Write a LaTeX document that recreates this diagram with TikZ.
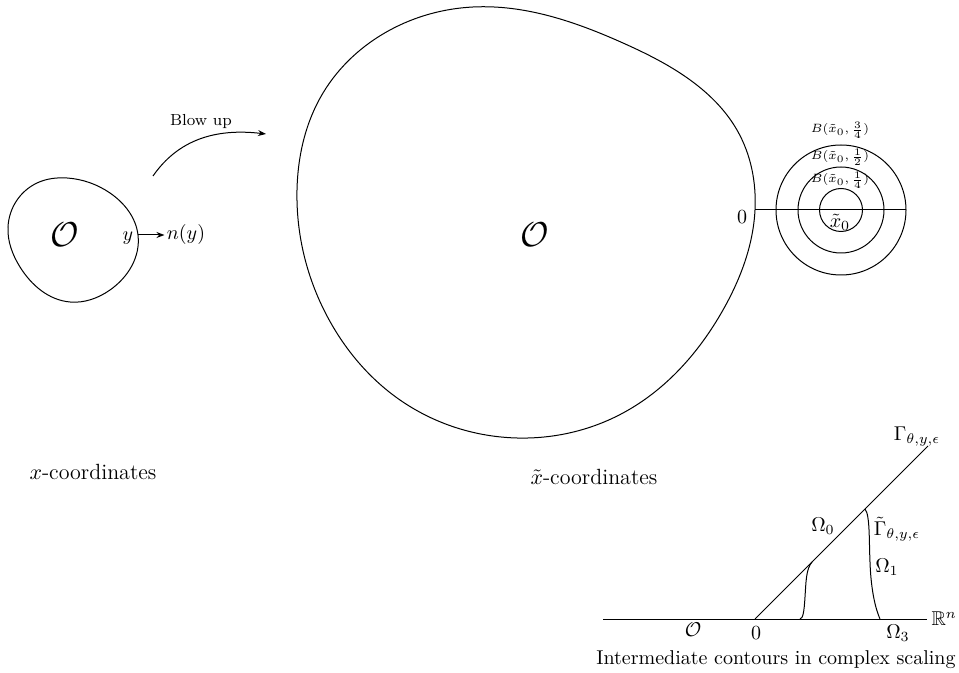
\documentclass[tikz,border=0pt]{standalone}
\usepackage{amsmath,amssymb}
\usetikzlibrary{arrows.meta,hobby}
\begin{document}
\begin{tikzpicture}[x=0.5pt,y=-0.5pt, line width=0.5pt,
  lbl/.style={inner sep=1pt},
  blbl/.style={inner sep=0.5pt,font=\fontsize{6.3}{7}\selectfont},
  captext/.style={inner sep=1pt,font=\fontsize{11}{13}\selectfont},
  arr/.style={-{Stealth[length=4pt,width=3pt]}}]
\useasboundingbox (0,0) rectangle (959,673);
% small domain
\draw[use Hobby shortcut, closed=true] (67,178) .. (110,193) .. (138,235) .. (110,290) .. (70,302) .. (20,267) .. (8,227) .. (37,183);
\node[lbl,font=\LARGE] (O1) at (65,235) {$\mathcal{O}$};
\coordinate (yp) at (138,235);
\node[lbl] (ylab) at (128,238) {$y$};
\node[lbl] (ny) at (186,235) {$n(y)$};
\draw[arr] (yp) -- (ny.west);
% blow up arrow
\coordinate (bu1) at (153,176);
\coordinate (bu2) at (266,134);
\draw[arr] (bu1) .. controls (178,140) and (215,128) .. (bu2);
\node[lbl,font=\footnotesize] (blow) at (201,122) {Blow up};
% big domain
\draw[use Hobby shortcut, closed=true] (473,7) .. (623,43) .. (683,75) .. (737,130) .. (755,210) .. (723,310) .. (623,413) .. (517,438) .. (400,400) .. (332,325) .. (297,190) .. (323,93) .. (390,30);
\node[lbl,font=\LARGE] (O2) at (535,235) {$\mathcal{O}$};
\coordinate (zero) at (755,210);
\node[lbl] (z0) at (742,217) {$0$};
% balls
\coordinate (xc) at (841,210);
\coordinate (lineend) at (906,210);
\draw (xc) circle[radius=21.5];
\draw (xc) circle[radius=43];
\draw (xc) circle[radius=65];
\draw (zero) -- (lineend);
\node[blbl] (B1) at (840,180) {$B(\tilde{x}_0,\frac{1}{4})$};
\node[blbl] (B2) at (840,157) {$B(\tilde{x}_0,\frac{1}{2})$};
\node[blbl] (B3) at (840,130) {$B(\tilde{x}_0,\frac{3}{4})$};
\node[lbl] (x0) at (840,222) {$\tilde{x}_0$};
% captions
\node[captext] (xc1) at (93,472) {$x$-coordinates};
\node[captext] (xc2) at (594,477) {$\tilde{x}$-coordinates};
% contour picture
\coordinate (h1) at (603,619);
\coordinate (h2) at (927,619);
\coordinate (o) at (755,619);
\coordinate (g) at (928,446);
\draw (h1) -- (h2);
\draw (o) -- (g);
\coordinate (c1) at (812,562);
\coordinate (c1b) at (800,619);
\draw (c1) .. controls (806,569) and (806,582) .. (805,597) .. controls (804,613) and (803,618) .. (c1b);
\coordinate (c2) at (865,509);
\coordinate (c2b) at (880,619);
\draw (c2) .. controls (870,515) and (869,540) .. (870,562) .. controls (871,592) and (876,610) .. (c2b);
\node[lbl,anchor=west] (Rn) at (929,619) {$\mathbb{R}^n$};
\node[lbl] (Gam) at (917,437) {$\Gamma_{\theta,y,\epsilon}$};
\node[lbl] (Om0) at (823,526) {$\Omega_0$};
\node[lbl] (Gt) at (897,529) {$\tilde{\Gamma}_{\theta,y,\epsilon}$};
\node[lbl] (Om1) at (887,567) {$\Omega_1$};
\node[lbl] (Om3) at (898,633) {$\Omega_3$};
\node[lbl] (z1) at (756,633) {$0$};
\node[lbl] (O3) at (693,630) {$\mathcal{O}$};
\node[lbl] (capn) at (776,660) {Intermediate contours in complex scaling};
\end{tikzpicture}
\end{document}
